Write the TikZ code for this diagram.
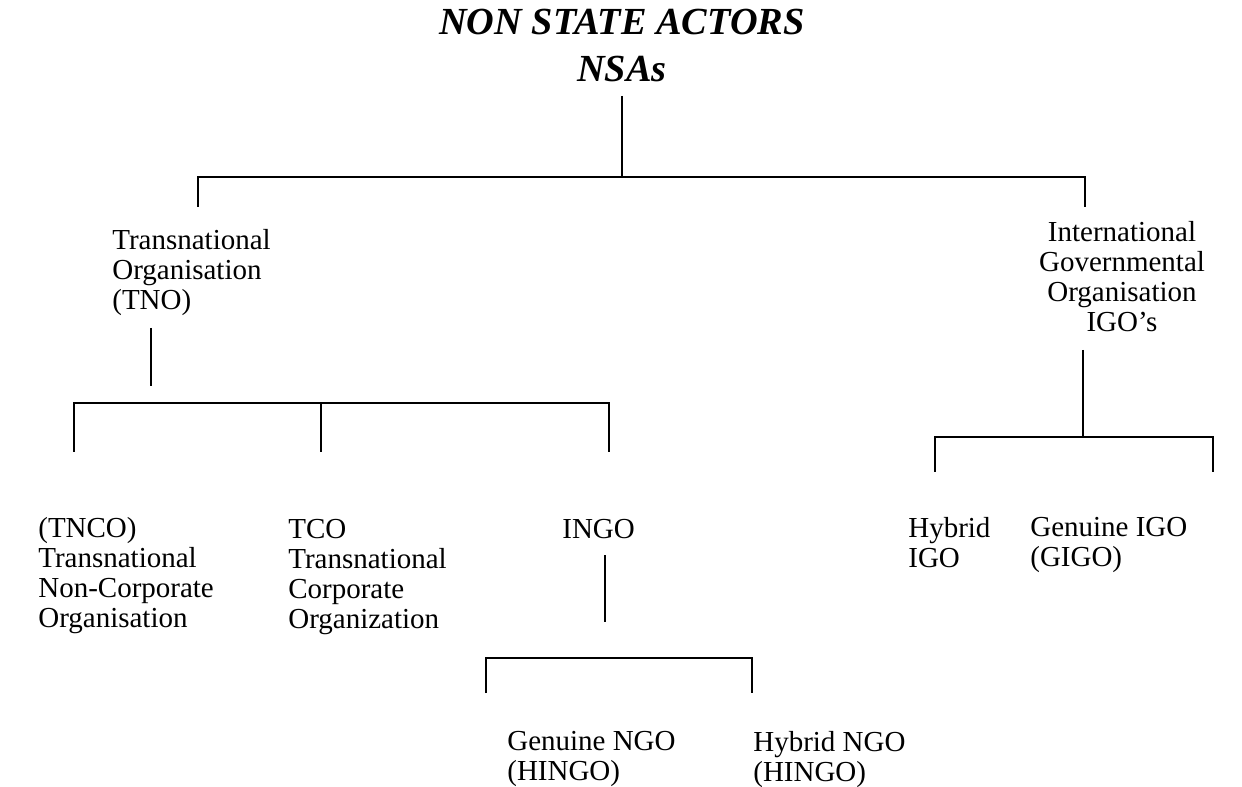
\documentclass[tikz,border=0pt]{standalone}
\usepackage{fontspec}
\setmainfont{Liberation Serif}
\tikzset{
	textnode/.style={
			inner sep=0pt,
			anchor=north west,
			align=left,
			font=\fontsize{16.5}{17.1}\selectfont
		},
	centernode/.style={
			textnode,
			anchor=north,
			align=center
		},
	titlenode/.style={
			inner sep=0pt,
			anchor=north,
			align=center,
			font=\fontsize{21.8}{26.5}\selectfont\bfseries\itshape
		},
	branch/.style={
			line width=1.6pt,
			black
		}
}

\begin{document}
\begin{tikzpicture}[x=0.02cm, y=-0.02cm]
\useasboundingbox (0,0) rectangle (1242,787);

\node[titlenode] (n1) at (622,9) {NON STATE ACTORS\\NSAs};
\node[textnode] (n2) at (112,229) {Transnational\\Organisation\\(TNO)};
\node[centernode] (n3) at (1122,221) {International\\Governmental\\Organisation\\IGO's};
\node[textnode] (n4) at (38,517) {(TNCO)\\Transnational\\Non-Corporate\\Organisation};
\node[textnode] (n5) at (288,519) {TCO\\Transnational\\Corporate\\Organization};
\node[textnode] (n6) at (562,519) {INGO};
\node[textnode] (n7) at (908,517) {Hybrid\\IGO};
\node[textnode] (n8) at (1030,517) {Genuine IGO\\(GIGO)};
\node[textnode] (n9) at (507,731) {Genuine NGO\\(HINGO)};
\node[textnode] (n10) at (753,731) {Hybrid NGO\\(HINGO)};

\coordinate (j1) at (622,177);
\coordinate (r1) at (198,207);
\coordinate (r2) at (1085,207);
\coordinate (k1) at (151,328);
\coordinate (k2) at (151,386);
\coordinate (j2) at (151,403);
\coordinate (c1) at (74,452);
\coordinate (c2) at (321,452);
\coordinate (c3) at (609,452);
\coordinate (m1) at (605,555);
\coordinate (m2) at (605,622);
\coordinate (j3) at (605,658);
\coordinate (g1) at (486,693);
\coordinate (g2) at (752,693);
\coordinate (p1) at (1083,350);
\coordinate (j4) at (1083,437);
\coordinate (q1) at (935,472);
\coordinate (q2) at (1213,472);

\draw[branch, shorten <=2.8mm] (n1) -- (j1);
\draw[branch] (r1) |- (j1) -| (r2);

\draw[branch] (k1) -- (k2);
\draw[branch] (c1) |- (j2) -| (c3);
\draw[branch] (c2) -- (c2 |- j2);

\draw[branch] (m1) -- (m2);
\draw[branch] (g1) |- (j3) -| (g2);

\draw[branch] (p1) -- (j4);
\draw[branch] (q1) |- (j4) -| (q2);
\end{tikzpicture}
\end{document}
